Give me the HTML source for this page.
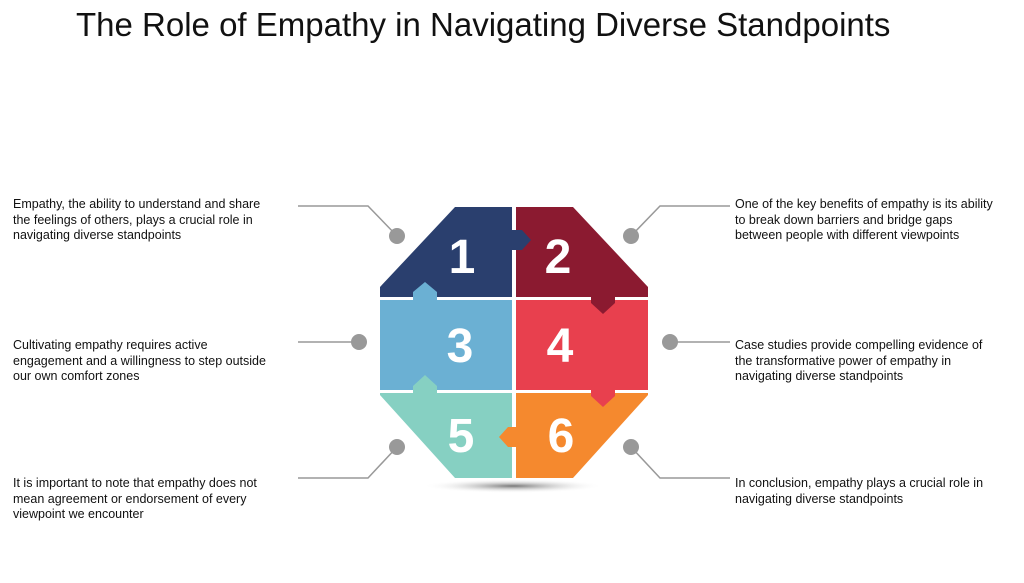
<!DOCTYPE html>
<html><head><meta charset="utf-8"><style>
html,body{margin:0;padding:0;background:#fff;width:1024px;height:583px;overflow:hidden;position:relative;font-family:"Liberation Sans",sans-serif}
.t{position:absolute;font-size:12.5px;line-height:15.5px;color:#111;white-space:nowrap}
h1{position:absolute;left:76px;top:6px;margin:0;font-weight:normal;font-size:33px;color:#111;white-space:nowrap}
</style></head><body>
<h1>The Role of Empathy in Navigating Diverse Standpoints</h1>
<div class="t" style="left:13px;top:197px">Empathy, the ability to understand and share<br>the feelings of others, plays a crucial role in<br>navigating diverse standpoints</div>
<div class="t" style="left:13px;top:338px">Cultivating empathy requires active<br>engagement and a willingness to step outside<br>our own comfort zones</div>
<div class="t" style="left:13px;top:476px">It is important to note that empathy does not<br>mean agreement or endorsement of every<br>viewpoint we encounter</div>
<div class="t" style="left:735px;top:197px">One of the key benefits of empathy is its ability<br>to break down barriers and bridge gaps<br>between people with different viewpoints</div>
<div class="t" style="left:735px;top:338px">Case studies provide compelling evidence of<br>the transformative power of empathy in<br>navigating diverse standpoints</div>
<div class="t" style="left:735px;top:476px">In conclusion, empathy plays a crucial role in<br>navigating diverse standpoints</div>
<svg width="1024" height="583" style="position:absolute;left:0;top:0">
<defs>
<clipPath id="oct"><polygon points="455,207 573,207 648,287 648,395 573,478 455,478 380,395 380,287"/></clipPath>
<radialGradient id="sh"><stop offset="0" stop-color="#777"/><stop offset="1" stop-color="#fff" stop-opacity="0"/></radialGradient>
</defs>
<ellipse cx="513" cy="486" rx="90" ry="7" fill="url(#sh)"/>
<g fill="none" stroke="#999" stroke-width="1.5">
<polyline points="298,206 368,206 397,236"/>
<polyline points="298,342 359,342"/>
<polyline points="298,478 368,478 397,447"/>
<polyline points="730,206 660,206 631,236"/>
<polyline points="730,342 670,342"/>
<polyline points="730,478 660,478 631,447"/>
</g>
<g fill="#999">
<circle cx="397" cy="236" r="8"/><circle cx="359" cy="342" r="8"/><circle cx="397" cy="447" r="8"/>
<circle cx="631" cy="236" r="8"/><circle cx="670" cy="342" r="8"/><circle cx="631" cy="447" r="8"/>
</g>
<g clip-path="url(#oct)">
<rect x="380" y="207" width="132" height="90" fill="#2a3f6e"/>
<rect x="516" y="207" width="132" height="90" fill="#8b1a30"/>
<rect x="380" y="300" width="132" height="90" fill="#6bb0d3"/>
<rect x="516" y="300" width="132" height="90" fill="#e8404e"/>
<rect x="380" y="393" width="132" height="85" fill="#86d0c2"/>
<rect x="516" y="393" width="132" height="85" fill="#f5892e"/>
</g>
<polygon points="510,230 522,230 531,240 522,250 510,250" fill="#2a3f6e"/>
<polygon points="413,302 413,292 425,282 437,292 437,302" fill="#6bb0d3"/>
<polygon points="591,295 615,295 615,303 603,314 591,303" fill="#8b1a30"/>
<polygon points="413,395 413,386 425,375 437,386 437,395" fill="#86d0c2"/>
<polygon points="591,388 615,388 615,396 603,407 591,396" fill="#e8404e"/>
<polygon points="518,427 508,427 499,437 508,447 518,447" fill="#f5892e"/>
<g fill="#fff" font-family="Liberation Sans,sans-serif" font-weight="bold" font-size="48" text-anchor="middle">
<text x="462" y="273">1</text><text x="558" y="273">2</text>
<text x="460" y="362">3</text><text x="560" y="362">4</text>
<text x="461" y="452">5</text><text x="561" y="452">6</text>
</g>
</svg>
</body></html>
